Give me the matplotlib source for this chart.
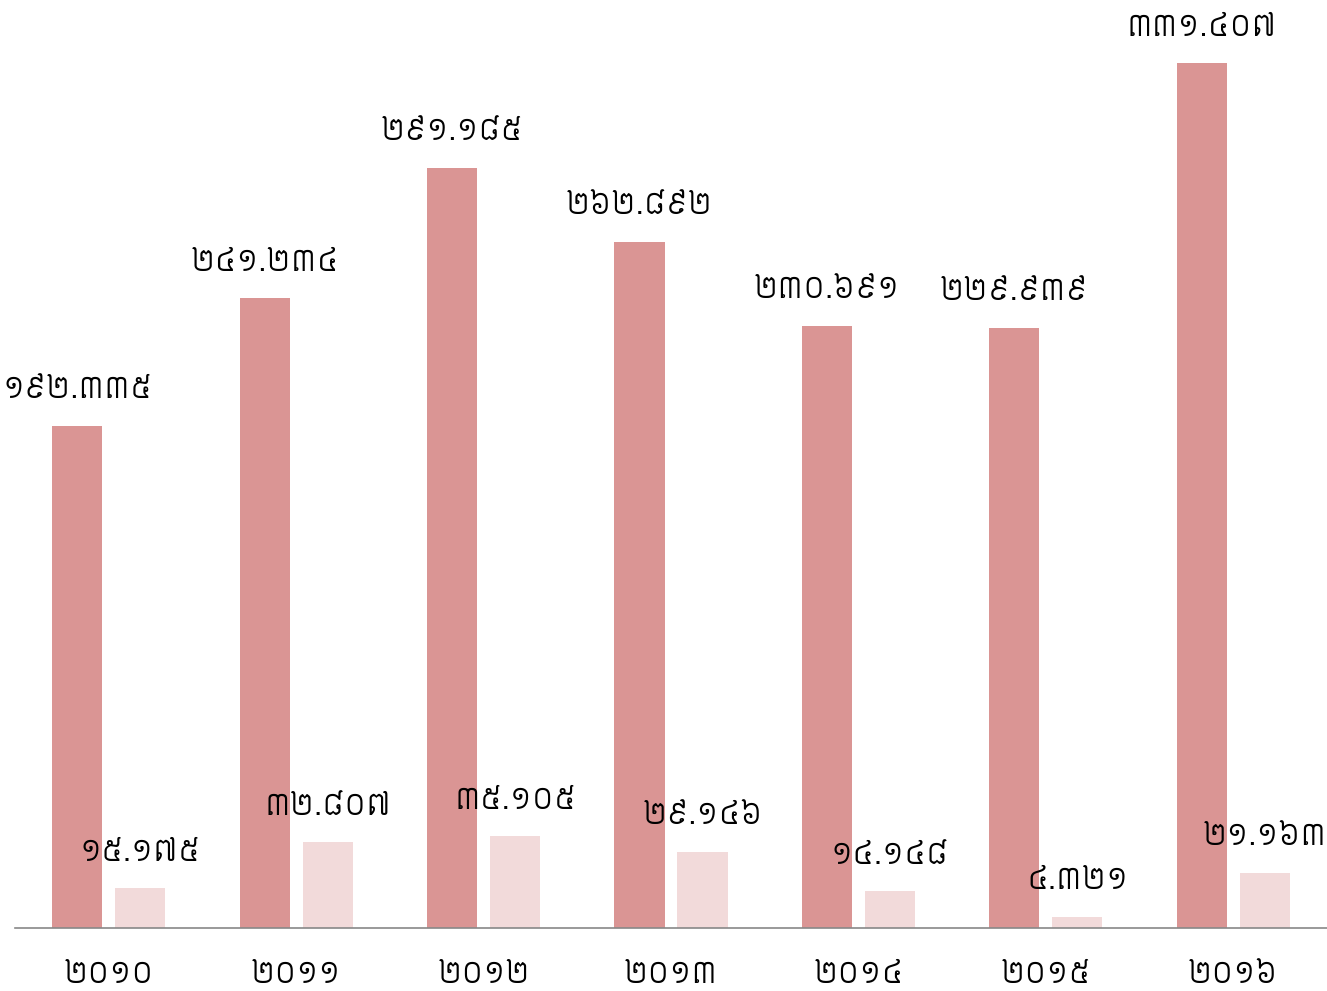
import matplotlib
matplotlib.use("Agg")
import matplotlib.pyplot as plt
import numpy as np

plt.rcParams['font.family'] = ['Siemreap', 'Noto Sans Khmer', 'DejaVu Sans']

years = ["២០១០", "២០១១", "២០១២", "២០១៣", "២០១៤", "២០១៥", "២០១៦"]
series_a = [192.335, 241.234, 291.185, 262.892, 230.691, 229.939, 331.407]
series_b = [15.175, 32.807, 35.105, 29.146, 14.148, 4.321, 21.163]
labels_a = ["១៩២.៣៣៥", "២៤១.២៣៤", "២៩១.១៨៥", "២៦២.៨៩២", "២៣០.៦៩១", "២២៩.៩៣៩", "៣៣១.៤០៧"]
labels_b = ["១៥.១៧៥", "៣២.៨០៧", "៣៥.១០៥", "២៩.១៤៦", "១៤.១៤៨", "៤.៣២១", "២១.១៦៣"]

color_a = "#DA9594"
color_b = "#F2DADA"

fig = plt.figure(figsize=(13.27, 9.91), dpi=100)
ax = fig.add_axes([15/1327, 1 - 928/991, 1312/1327, 928/991])

x = np.arange(len(years))
off = 0.168
w = 0.267
ax.bar(x - off, series_a, width=w, color=color_a)
ax.bar(x + off, series_b, width=w, color=color_b)

ymax = 331.407 * 928 / 865
ax.set_ylim(0, ymax)
ax.set_xlim(-0.5, len(years) - 0.5)

pad_units = 35 * ymax / 928
for xi, v, t in zip(x, series_a, labels_a):
    ax.text(xi - off, v + pad_units, t, ha="center", va="center", fontsize=21, color="black")
for xi, v, t in zip(x, series_b, labels_b):
    ax.text(xi + off, v + pad_units, t, ha="center", va="center", fontsize=21, color="black")

for s in ["top", "right", "left"]:
    ax.spines[s].set_visible(False)
ax.spines["bottom"].set_color("#888888")
ax.spines["bottom"].set_linewidth(1.2)
ax.set_yticks([])
ax.set_xticks(x)
ax.set_xticklabels(years, fontsize=21)
ax.tick_params(axis="x", length=0, pad=24)

fig.savefig("out.png")
